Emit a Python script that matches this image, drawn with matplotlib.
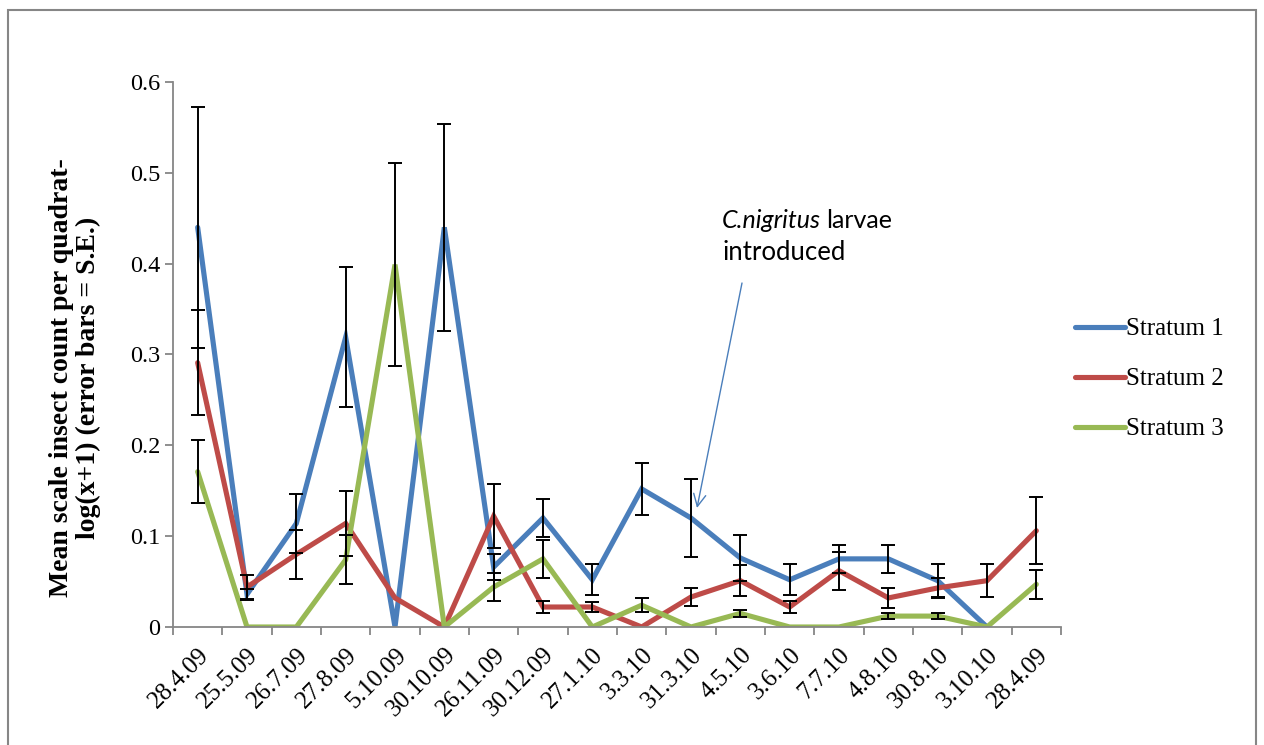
import numpy as np
import matplotlib
matplotlib.use("Agg")
import matplotlib.pyplot as plt
import matplotlib.transforms as mtransforms
from matplotlib.patches import Rectangle

nan = np.nan
dates = ['28.4.09', '25.5.09', '26.7.09', '27.8.09', '5.10.09', '30.10.09', '26.11.09',
         '30.12.09', '27.1.10', '3.3.10', '31.3.10', '4.5.10', '3.6.10', '7.7.10',
         '4.8.10', '30.8.10', '3.10.10', '28.4.09']

stratum1 = [0.44, 0.036, 0.114, 0.319, 0.0, 0.44, 0.066, 0.12, 0.052, 0.152, 0.12, 0.076,
            0.052, 0.075, 0.075, 0.051, 0.0, nan]
stratum1_se = [0.133, 0.006, 0.032, 0.077, 0, 0.114, 0.014, 0.021, 0.017, 0.029, 0.043, 0.025,
               0.017, 0.015, 0.015, 0.018, 0, nan]
stratum2 = [0.291, 0.044, 0.080, 0.114, 0.032, 0.0, 0.122, 0.022, 0.022, 0.0, 0.033, 0.051,
            0.022, 0.062, 0.032, 0.043, 0.051, 0.106]
stratum2_se = [0.058, 0.013, 0.027, 0.036, 0, 0, 0.035, 0.007, 0.006, 0, 0.010, 0.017,
               0.007, 0.021, 0.011, 0.011, 0.018, 0.037]
stratum3 = [0.171, 0.0, 0.0, 0.074, 0.399, 0.0, 0.044, 0.075, 0.0, 0.024, 0.0, 0.015,
            0.0, 0.0, 0.012, 0.012, 0.0, 0.047]
stratum3_se = [0.035, 0, 0, 0.027, 0.112, 0, 0.015, 0.021, 0, 0.008, 0, 0.004,
               0, 0, 0.003, 0.003, 0, 0.016]

series = [("Stratum 1", stratum1, stratum1_se, "#4A7EBB"),
          ("Stratum 2", stratum2, stratum2_se, "#BE4B48"),
          ("Stratum 3", stratum3, stratum3_se, "#98B954")]

W, H = 1264, 745
fig = plt.figure(figsize=(W / 100, H / 100), dpi=100)
fig.patch.set_facecolor("white")
ax = fig.add_axes([173 / W, (H - 627) / H, (1061 - 173) / W, (627 - 82) / H])

serif = ["Liberation Serif", "DejaVu Serif"]
x = np.arange(len(dates))
for name, vals, se, col in series:
    v = np.array(vals, dtype=float)
    ax.plot(x, v, color=col, lw=3.7, label=name, solid_capstyle="round",
            solid_joinstyle="miter", zorder=2)
for name, vals, se, col in series:
    v = np.array(vals, dtype=float)
    e = np.array(se, dtype=float)
    m = np.nan_to_num(e) > 0
    ax.errorbar(x[m], v[m], yerr=e[m], fmt="none", ecolor="black", elinewidth=1.4,
                capsize=5, capthick=1.4, zorder=3)

ax.set_xlim(-0.5, len(dates) - 0.5)
ax.set_ylim(0, 0.6)
ax.set_yticks(np.arange(0, 0.61, 0.1))
ax.set_yticklabels(["0"] + [f"{t:.1f}" for t in np.arange(0.1, 0.61, 0.1)],
                   fontsize=17.5, family=serif)
ax.set_xticks(x)
ax.set_xticklabels(dates, rotation=45, ha="right", rotation_mode="anchor",
                   fontsize=18, family=serif)
shift = mtransforms.ScaledTranslation(8 / 100, 0, fig.dpi_scale_trans)
for lbl in ax.get_xticklabels():
    lbl.set_transform(lbl.get_transform() + shift)
ax.set_xticks(np.arange(-0.5, len(dates), 1), minor=True)
ax.tick_params(axis="x", which="major", length=0, pad=12)
ax.tick_params(axis="x", which="minor", length=6, color="#868686", width=1.3, direction="out")
ax.tick_params(axis="y", length=6, color="#868686", width=1.3, direction="out", pad=3)
for s in ["top", "right"]:
    ax.spines[s].set_visible(False)
for s in ["left", "bottom"]:
    ax.spines[s].set_color("#868686")
    ax.spines[s].set_linewidth(1.3)

fig.text(75 / W, (H - 378) / H, "Mean scale insect count per quadrat-\nlog(x+1) (error bars = S.E.)",
         rotation=90, ha="center", va="center", multialignment="center",
         fontsize=20, fontweight="bold", family=serif, linespacing=1.05)

leg = ax.legend(loc="center left", bbox_to_anchor=(1075 / W, (H - 379) / H),
                bbox_transform=fig.transFigure, frameon=False, prop={"family": serif, "size": 18},
                handlelength=2.0, handletextpad=0.05, labelspacing=1.1, borderpad=0,
                borderaxespad=0)

# annotation
sans = ["Lato", "DejaVu Sans"]
t1 = fig.text(722 / W, (H - 220) / H, "C.nigritus", style="italic", fontsize=18, family=sans,
              ha="left", va="center")
fig.text(722 / W, (H - 253) / H, "introduced", fontsize=18.5, family=sans, ha="left", va="center")
ax.annotate("larvae", xy=(1, 0.5), xycoords=t1, xytext=(4, 0), textcoords="offset points",
            fontsize=18, family=sans, ha="left", va="center")
ax.annotate("", xy=(697, H - 508), xycoords="figure pixels",
            xytext=(742, H - 283), textcoords="figure pixels",
            arrowprops=dict(arrowstyle="->", color="#4A7EBB", lw=1.0, mutation_scale=22,
                            shrinkA=0, shrinkB=0))

fig.patches.append(Rectangle((8 / W, -0.05), (1256 - 8) / W, (H - 10) / H + 0.05,
                             transform=fig.transFigure, fill=False, edgecolor="#868686",
                             lw=1.5, zorder=0))

fig.savefig("out.png", dpi=100, facecolor="white")
